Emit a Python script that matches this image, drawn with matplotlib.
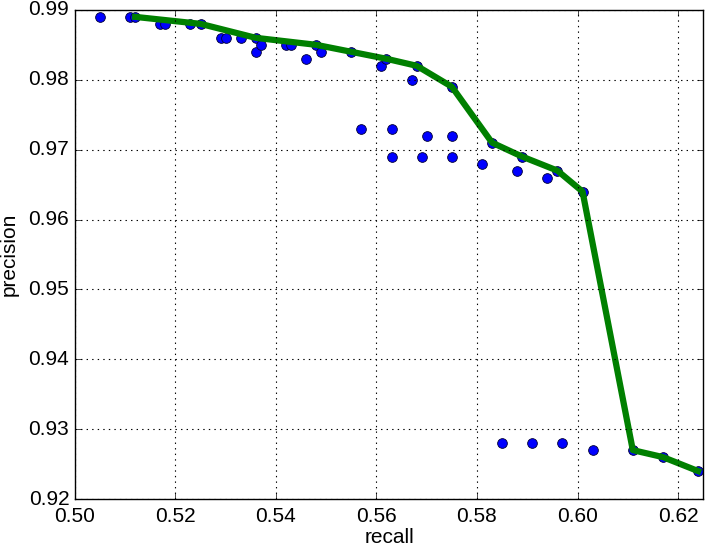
import numpy as np
import matplotlib as mpl
mpl.use('Agg')
import matplotlib.pyplot as plt

# all measured (recall, precision) pairs
recall = [0.505, 0.511, 0.512, 0.517, 0.518, 0.523, 0.525, 0.529, 0.530,
          0.533, 0.536, 0.536, 0.537, 0.542, 0.543, 0.546, 0.548, 0.549,
          0.555, 0.561, 0.562, 0.567, 0.568, 0.575, 0.557, 0.563, 0.570,
          0.575, 0.563, 0.569, 0.575, 0.581, 0.583, 0.588, 0.589, 0.594,
          0.596, 0.601, 0.585, 0.591, 0.597, 0.603, 0.611, 0.617, 0.624]
precision = [0.989, 0.989, 0.989, 0.988, 0.988, 0.988, 0.988, 0.986, 0.986,
             0.986, 0.986, 0.984, 0.985, 0.985, 0.985, 0.983, 0.985, 0.984,
             0.984, 0.982, 0.983, 0.980, 0.982, 0.979, 0.973, 0.973, 0.972,
             0.972, 0.969, 0.969, 0.969, 0.968, 0.971, 0.967, 0.969, 0.966,
             0.967, 0.964, 0.928, 0.928, 0.928, 0.927, 0.927, 0.926, 0.924]

# best precision for a given recall (frontier)
front_recall = [0.512, 0.525, 0.536, 0.548, 0.555, 0.562, 0.568, 0.575,
                0.583, 0.589, 0.596, 0.601, 0.611, 0.617, 0.624]
front_precision = [0.989, 0.988, 0.986, 0.985, 0.984, 0.983, 0.982, 0.979,
                   0.971, 0.969, 0.967, 0.964, 0.927, 0.926, 0.924]

plt.style.use('classic')
plt.rcParams['font.family'] = ['Liberation Sans', 'DejaVu Sans']
plt.rcParams['font.size'] = 15

fig = plt.figure(figsize=(7.06, 5.49), dpi=100, facecolor='white')
ax = fig.add_axes([0.106, 0.091, 0.89, 0.891])
ax.plot(recall, precision, 'bo', markersize=7, markeredgecolor='#000033', markeredgewidth=0.6)
ax.plot(front_recall, front_precision, color='g', linewidth=4.5)
ax.set_xlim(0.50, 0.625)
ax.set_ylim(0.92, 0.99)
ax.set_xticks(np.arange(0.50, 0.621, 0.02))
ax.set_yticks(np.arange(0.92, 0.9901, 0.01))
ax.xaxis.set_major_formatter(mpl.ticker.FormatStrFormatter('%.2f'))
ax.yaxis.set_major_formatter(mpl.ticker.FormatStrFormatter('%.2f'))
ax.tick_params(axis='x', pad=6)
ax.grid(True, linestyle=':', color='black', linewidth=0.8)
ax.set_xlabel('recall', labelpad=1)
ax.set_ylabel('precision', labelpad=7)
fig.savefig('out.png', dpi=100, facecolor='white')
